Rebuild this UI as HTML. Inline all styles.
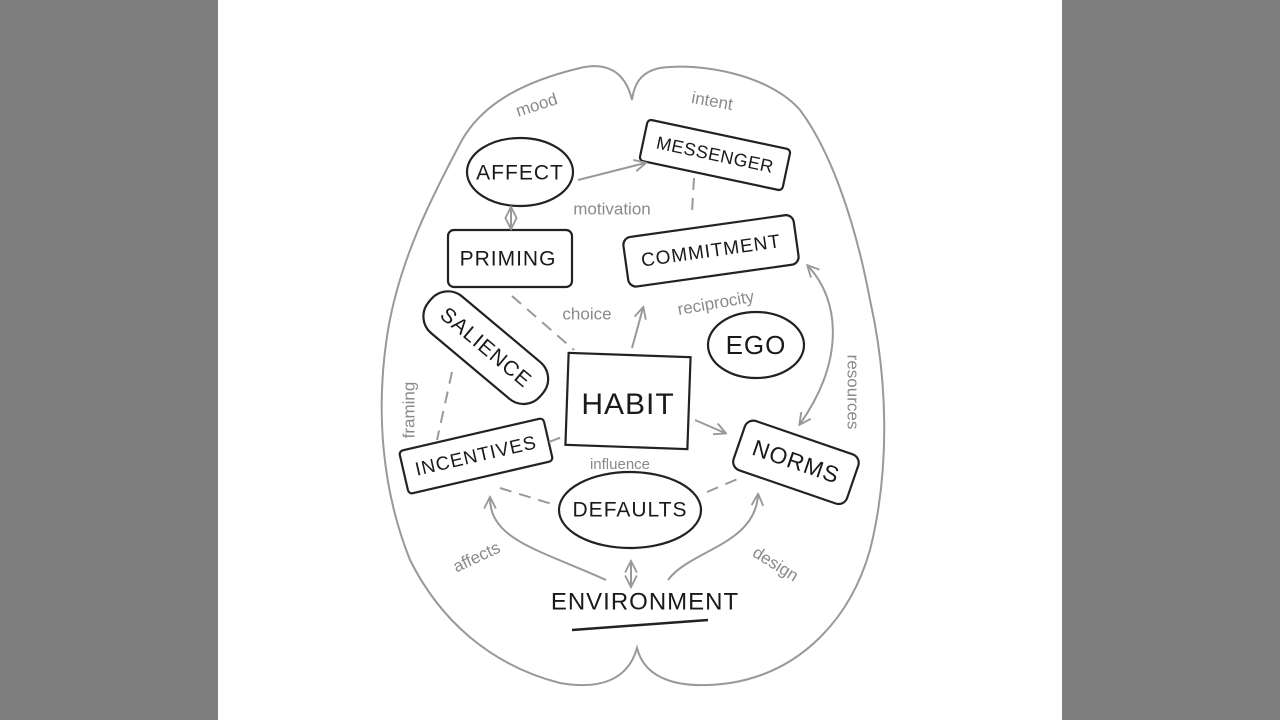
<!DOCTYPE html>
<html><head><meta charset="utf-8"><style>
html,body{margin:0;padding:0;width:1280px;height:720px;overflow:hidden;background:#7f7f7f}
svg{display:block}
.n{font-family:"Liberation Sans",sans-serif;font-size:21px;fill:#1a1a1a;text-anchor:middle;dominant-baseline:middle;letter-spacing:1px}
.g{font-family:"Liberation Sans",sans-serif;font-size:17px;fill:#8a8a8a;text-anchor:middle;dominant-baseline:middle}
.b{fill:none;stroke:#222;stroke-width:2.2}
.l{fill:none;stroke:#999;stroke-width:2}
.d{fill:none;stroke:#999;stroke-width:2;stroke-dasharray:12 8}
</style></head><body>
<svg width="1280" height="720" viewBox="0 0 1280 720">
<defs><marker id="a" viewBox="0 0 12 12" refX="10" refY="6" markerWidth="14" markerHeight="14" markerUnits="userSpaceOnUse" orient="auto-start-reverse"><path d="M1 1L11 6L1 11" fill="none" stroke="#999" stroke-width="1.6"/></marker></defs>
<rect x="218" y="0" width="844" height="720" fill="#fff"/>
<path class="l" d="M632 100 C625 70 605 62 580 68 C530 80 485 100 462 140 C430 200 400 260 388 330 C375 410 382 490 410 560 C440 620 490 665 560 683 C600 690 628 680 637 648 C645 680 680 690 730 683 C800 672 850 620 870 550 C890 470 888 380 870 300 C855 220 830 150 800 110 C770 75 700 62 660 68 C640 72 634 85 632 100 Z"/>
<ellipse class="b" cx="520" cy="172" rx="53" ry="34"/>
<text class="n" x="520" y="174">AFFECT</text>
<g transform="rotate(12 715 155)"><rect class="b" x="642" y="134" width="146" height="42" rx="4"/><text class="n" x="715" y="156" style="font-size:18px;letter-spacing:0.5px">MESSENGER</text></g>
<rect class="b" x="448" y="230" width="124" height="57" rx="6"/>
<text class="n" x="508" y="260">PRIMING</text>
<g transform="rotate(-8 710 251)"><rect class="b" x="625" y="226" width="172" height="50" rx="8"/><text class="n" x="711" y="252" style="font-size:19px">COMMITMENT</text></g>
<g transform="rotate(40 485 347)"><rect class="b" x="413" y="323" width="146" height="48" rx="22"/><text class="n" x="486" y="348">SALIENCE</text></g>
<ellipse class="b" cx="756" cy="345" rx="48" ry="33"/>
<text class="n" x="756" y="347" style="font-size:26px">EGO</text>
<rect class="b" x="567" y="355" width="122" height="92" transform="rotate(2 628 401)"/>
<text class="n" x="628" y="406" style="font-size:30px">HABIT</text>
<g transform="rotate(-13 476 456)"><rect class="b" x="402" y="434" width="148" height="44" rx="4"/><text class="n" x="476" y="457" style="font-size:19px">INCENTIVES</text></g>
<g transform="rotate(19 795 462)"><rect class="b" x="736" y="436" width="120" height="52" rx="9"/><text class="n" x="796" y="463" style="font-size:23px">NORMS</text></g>
<ellipse class="b" cx="630" cy="510" rx="71" ry="38"/>
<text class="n" x="630" y="511">DEFAULTS</text>
<text class="n" x="645" y="603" style="font-size:24px">ENVIRONMENT</text>
<path d="M572 630 L708 620" stroke="#222" stroke-width="2.5"/>
<text class="g" x="537" y="106" transform="rotate(-18 537 106)">mood</text>
<text class="g" x="712" y="102" transform="rotate(10 712 102)">intent</text>
<text class="g" x="612" y="210">motivation</text>
<text class="g" x="587" y="315">choice</text>
<text class="g" x="716" y="304" transform="rotate(-10 716 304)">reciprocity</text>
<text class="g" x="852" y="392" transform="rotate(90 852 392)">resources</text>
<text class="g" x="410" y="410" transform="rotate(-90 410 410)">framing</text>
<text class="g" x="620" y="465" style="font-size:15px">influence</text>
<text class="g" x="477" y="558" transform="rotate(-25 477 558)">affects</text>
<text class="g" x="775" y="565" transform="rotate(32 775 565)">design</text>
<path class="l" d="M578 180 L645 163" marker-end="url(#a)"/>
<path class="l" d="M511 208 L511 228" marker-start="url(#a)" marker-end="url(#a)"/>
<path class="d" d="M694 178 L692 212"/>
<path class="d" d="M512 296 L574 350"/>
<path class="l" d="M632 348 L643 308" marker-end="url(#a)"/>
<path class="l" d="M695 420 L725 433" marker-end="url(#a)"/>
<path class="l" d="M808 266 C840 300 845 360 800 424" marker-start="url(#a)" marker-end="url(#a)"/>
<path class="d" d="M452 372 L437 440"/>
<path class="d" d="M549 442 L567 435"/>
<path class="d" d="M500 488 L555 505"/>
<path class="d" d="M707 492 L740 478"/>
<path class="l" d="M606 580 C540 550 490 540 490 498" marker-end="url(#a)"/>
<path class="l" d="M668 580 C690 550 755 545 758 495" marker-end="url(#a)"/>
<path class="l" d="M631 562 L631 586" marker-start="url(#a)" marker-end="url(#a)"/>
</svg>
</body></html>
